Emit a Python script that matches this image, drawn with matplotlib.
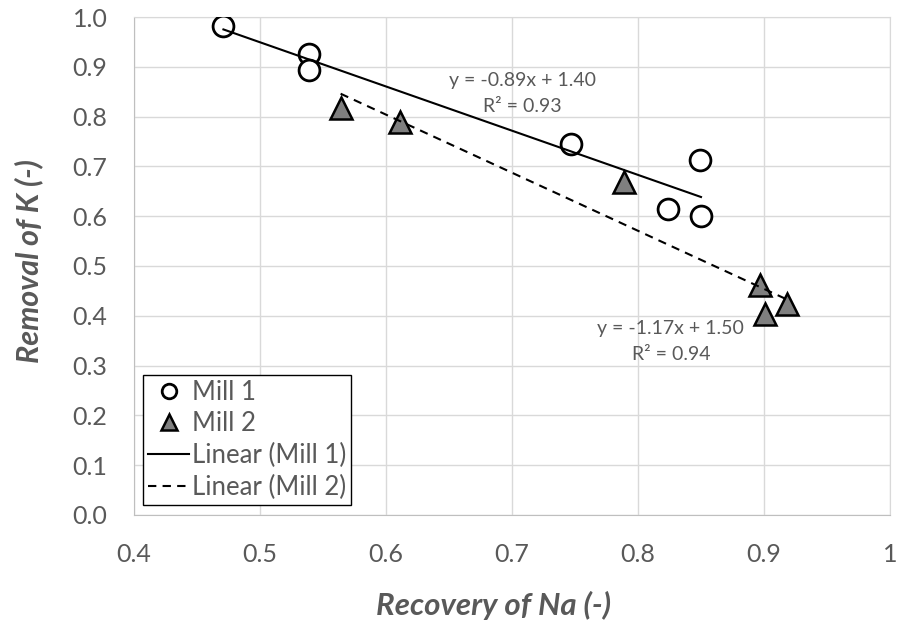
import numpy as np
import matplotlib.pyplot as plt

# data
mill1_x = [0.471, 0.539, 0.539, 0.747, 0.849, 0.824, 0.850]
mill1_y = [0.982, 0.926, 0.894, 0.744, 0.713, 0.614, 0.601]
mill2_x = [0.564, 0.611, 0.789, 0.897, 0.918, 0.901]
mill2_y = [0.818, 0.790, 0.669, 0.461, 0.423, 0.403]

eq1 = "y = -0.89x + 1.40\nR² = 0.93"
eq2 = "y = -1.17x + 1.50\nR² = 0.94"

plt.rcParams['font.family'] = ['Lato', 'DejaVu Sans']
grey = '#595959'

fig = plt.figure(figsize=(8.99, 6.23), dpi=100)
ax = fig.add_axes([0.149, 0.1734, 0.841, 0.7993])

# trend lines
p1 = np.polyfit(mill1_x, mill1_y, 1)
p2 = np.polyfit(mill2_x, mill2_y, 1)
xs1 = np.array([min(mill1_x), max(mill1_x)])
xs2 = np.array([min(mill2_x), max(mill2_x)])

ax.plot(mill1_x, mill1_y, 'o', ms=15, mfc='white', mec='black', mew=2, label='Mill 1', zorder=3)
ax.plot(mill2_x, mill2_y, '^', ms=16, mfc='#7f7f7f', mec='black', mew=1.8, label='Mill 2', zorder=3)
ax.plot(xs1, np.polyval(p1, xs1), '-', color='black', lw=1.5, label='Linear (Mill 1)', zorder=4)
ax.plot(xs2, np.polyval(p2, xs2), '--', color='black', lw=1.5, dashes=(4, 3), label='Linear (Mill 2)', zorder=4)

ax.text(0.708, 0.847, eq1, ha='center', va='center', fontsize=14, color=grey, linespacing=1.65)
ax.text(0.826, 0.348, eq2, ha='center', va='center', fontsize=14, color=grey, linespacing=1.65)

ax.set_xlim(0.4, 1.0)
ax.set_ylim(0, 1.0)
ax.set_xticks(np.arange(0.4, 1.01, 0.1))
ax.set_xticklabels(['0.4', '0.5', '0.6', '0.7', '0.8', '0.9', '1'])
ax.set_yticks(np.arange(0, 1.01, 0.1))
ax.set_yticklabels(['%.1f' % v for v in np.arange(0, 1.01, 0.1)])
ax.tick_params(length=0, labelsize=18, colors=grey)
ax.tick_params(axis='y', pad=19)
ax.tick_params(axis='x', pad=20)
ax.grid(True, color='#d9d9d9', lw=1)
ax.set_axisbelow(True)
for s in ax.spines.values():
    s.set_color('#d9d9d9')
ax.spines['left'].set_color('#bfbfbf')
ax.spines['bottom'].set_color('#bfbfbf')

ax.set_xlabel('Recovery of Na (-)', fontsize=22.5, fontweight='bold', fontstyle='italic', color=grey)
ax.set_ylabel('Removal of K (-)', fontsize=22, fontweight='bold', fontstyle='italic', color=grey)
ax.xaxis.set_label_coords(0.475, -0.152)
ax.yaxis.set_label_coords(-0.12, 0.51)

leg = ax.legend(loc='lower left', bbox_to_anchor=(0.012, 0.02), borderaxespad=0, fontsize=18.5,
                markerscale=0.7, handlelength=1.6, handletextpad=0.1, labelspacing=0.26,
                fancybox=False, framealpha=1, edgecolor='black', borderpad=0.2)
for t in leg.get_texts():
    t.set_color(grey)

fig.savefig('out.png', dpi=100)
